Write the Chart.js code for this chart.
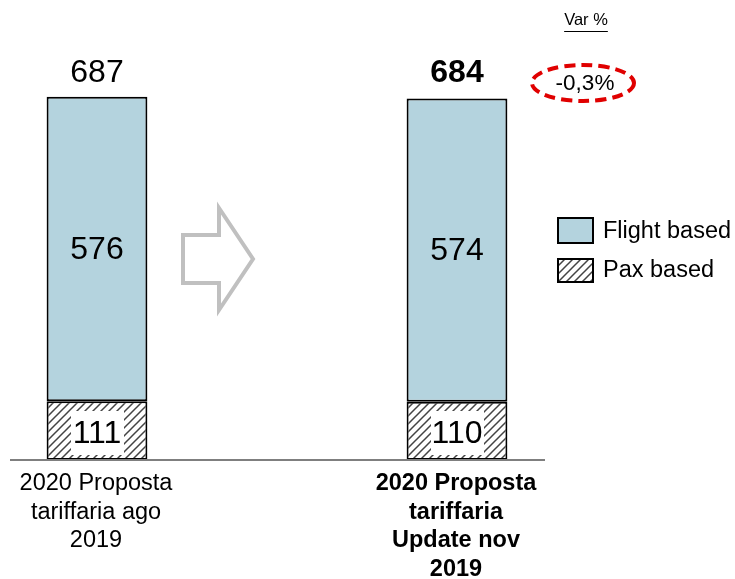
<!DOCTYPE html>
<html>
<head>
<meta charset="utf-8">
<script src="https://cdn.jsdelivr.net/npm/chart.js@4.4.0/dist/chart.umd.min.js"></script>
<style>
  html, body { margin: 0; padding: 0; background: #fff; }
  #wrap { width: 735px; height: 579px; position: relative; }
</style>
</head>
<body>
<div id="wrap"><canvas id="myChart"></canvas></div>
<script>
// data
var categories = ['2020 Proposta tariffaria ago 2019', '', '2020 Proposta tariffaria Update nov 2019'];
var xLabels = [['2020 Proposta', 'tariffaria ago', '2019'], [], ['2020 Proposta', 'tariffaria', 'Update nov', '2019']];
var paxBased = [111, null, 110];
var flightBased = [576, null, 574];
var totals = [687, null, 684];
var varPct = '-0,3%';

var FONT = '"Liberation Sans", Arial, sans-serif';

function hatch() {
  var c = document.createElement('canvas');
  c.width = 8; c.height = 8;
  var g = c.getContext('2d');
  g.fillStyle = '#fff';
  g.fillRect(0, 0, 8, 8);
  g.strokeStyle = '#444';
  g.lineWidth = 1.5;
  g.beginPath();
  g.moveTo(-1, 9); g.lineTo(9, -1);
  g.moveTo(-5, 5); g.lineTo(5, -5);
  g.moveTo(3, 13); g.lineTo(13, 3);
  g.stroke();
  return g.createPattern(c, 'repeat');
}
var hatchFill = hatch();

var extras = {
  id: 'extras',
  afterDatasetsDraw: function(chart) {
    var ctx = chart.ctx;
    var x = chart.scales.x, y = chart.scales.y;
    ctx.save();
    // baseline
    ctx.strokeStyle = '#7f7f7f';
    ctx.lineWidth = 2;
    ctx.beginPath();
    ctx.moveTo(10, y.getPixelForValue(0));
    ctx.lineTo(545, y.getPixelForValue(0));
    ctx.stroke();

    ctx.textAlign = 'center';
    ctx.textBaseline = 'middle';
    [0, 2].forEach(function(i) {
      var cx = x.getPixelForValue(i);
      var bold = i === 2 ? 'bold ' : '';
      // pax value with white box
      var py = 433;
      ctx.fillStyle = '#fff';
      ctx.fillRect(cx - 26, py - 22, 53, 44);
      ctx.fillStyle = '#000';
      ctx.font = '32px ' + FONT;
      ctx.fillText(paxBased[i], cx, py + 1);
      // flight value
      var fy = (y.getPixelForValue(paxBased[i]) + y.getPixelForValue(totals[i])) / 2;
      ctx.fillText(flightBased[i], cx, fy + 1);
      // total
      ctx.font = bold + '32px ' + FONT;
      ctx.fillText(totals[i], cx, 73);
      // x labels
      ctx.font = bold + '23.5px ' + FONT;
      xLabels[i].forEach(function(t, k) {
        ctx.fillText(t, cx - 1, 484 + k * 28.5);
      });
    });

    // arrow
    ctx.strokeStyle = '#c0c0c0';
    ctx.lineWidth = 4;
    ctx.beginPath();
    ctx.moveTo(183, 235); ctx.lineTo(219, 235); ctx.lineTo(219, 208);
    ctx.lineTo(253, 259); ctx.lineTo(219, 310); ctx.lineTo(219, 283);
    ctx.lineTo(183, 283); ctx.closePath();
    ctx.stroke();

    // var %
    ctx.fillStyle = '#000';
    ctx.font = '16.5px ' + FONT;
    ctx.fillText('Var %', 586, 20);
    var w = ctx.measureText('Var %').width;
    ctx.lineWidth = 1;
    ctx.strokeStyle = '#000';
    ctx.beginPath();
    ctx.moveTo(586 - w / 2, 31.5); ctx.lineTo(586 + w / 2, 31.5);
    ctx.stroke();

    ctx.strokeStyle = '#e00000';
    ctx.lineWidth = 4;
    ctx.setLineDash([11, 6]);
    ctx.beginPath();
    ctx.ellipse(583, 83, 51, 18, 0, 0, Math.PI * 2);
    ctx.stroke();
    ctx.setLineDash([]);
    ctx.font = '22.5px ' + FONT;
    ctx.fillText(varPct, 585, 84);

    // legend
    ctx.lineWidth = 2;
    ctx.strokeStyle = '#000';
    ctx.fillStyle = '#b4d3de';
    ctx.fillRect(558, 218, 35, 25);
    ctx.strokeRect(558, 218, 35, 25);
    ctx.fillStyle = hatchFill;
    ctx.fillRect(558, 259, 35, 23);
    ctx.strokeRect(558, 259, 35, 23);
    ctx.fillStyle = '#000';
    ctx.textAlign = 'left';
    ctx.font = '23.5px ' + FONT;
    ctx.fillText('Flight based', 603, 232);
    ctx.fillText('Pax based', 603, 271);
    ctx.restore();
  }
};

var ctx = document.getElementById('myChart').getContext('2d');
var myChart = new Chart(ctx, {
  type: 'bar',
  data: {
    labels: categories,
    datasets: [
      { label: 'Pax based', data: paxBased, backgroundColor: hatchFill, borderColor: '#000', borderWidth: 2, borderSkipped: false },
      { label: 'Flight based', data: flightBased, backgroundColor: '#b4d3de', borderColor: '#000', borderWidth: 2, borderSkipped: false }
    ]
  },
  options: {
    responsive: true,
    maintainAspectRatio: false,
    animation: false,
    layout: { padding: { left: 7, right: 188, top: 90, bottom: 119 } },
    datasets: { bar: { barPercentage: 1, categoryPercentage: 0.56 } },
    plugins: { legend: { display: false }, tooltip: { enabled: false } },
    scales: {
      x: { stacked: true, display: false },
      y: { stacked: true, display: false, min: 0, max: 700 }
    }
  },
  plugins: [extras]
});
</script>
</body>
</html>
